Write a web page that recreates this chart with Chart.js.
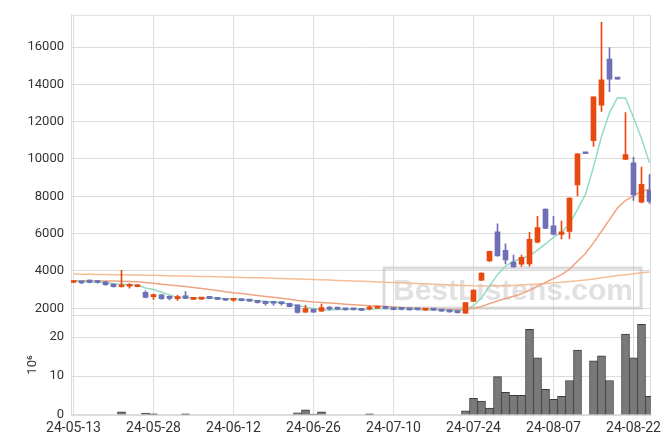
<!DOCTYPE html>
<html>
<head>
<meta charset="utf-8">
<script src="https://cdn.jsdelivr.net/npm/chart.js@4.4.1/dist/chart.umd.min.js"></script>
<style>
  html, body { margin: 0; padding: 0; background: #fff; }
</style>
</head>
<body>
<canvas id="grafico" width="671" height="444"></canvas>
<script>
/* ---------- dados ---------- */
const DATAS = [
  '24-05-13','24-05-14','24-05-16','24-05-17','24-05-20','24-05-21','24-05-22','24-05-23','24-05-24','24-05-27',
  '24-05-28','24-05-29','24-05-30','24-05-31','24-06-03','24-06-04','24-06-05','24-06-07','24-06-10','24-06-11',
  '24-06-12','24-06-13','24-06-14','24-06-17','24-06-18','24-06-19','24-06-20','24-06-21','24-06-24','24-06-25',
  '24-06-26','24-06-27','24-06-28','24-07-01','24-07-02','24-07-03','24-07-04','24-07-05','24-07-08','24-07-09',
  '24-07-10','24-07-11','24-07-12','24-07-15','24-07-16','24-07-17','24-07-18','24-07-19','24-07-22','24-07-23',
  '24-07-24','24-07-25','24-07-26','24-07-29','24-07-30','24-07-31','24-08-01','24-08-02','24-08-05','24-08-06',
  '24-08-07','24-08-08','24-08-09','24-08-12','24-08-13','24-08-14','24-08-16','24-08-19','24-08-20','24-08-21',
  '24-08-22','24-08-23','24-08-26'
];

const ABERTURA = [
  3380,3430,3510,3480,3420,3300,3150,3180,3150,2850,
  2620,2720,2580,2520,2670,2480,2490,2620,2580,2510,
  2430,2470,2460,2420,2370,2300,2290,2270,2180,1790,
  1950,1850,2020,2030,1980,1940,1950,1960,2010,2040,
  2020,1980,1960,1960,1900,1960,1930,1910,1880,1740,
  2370,3500,4530,6100,5100,4470,4360,4380,5540,7320,
  6420,5960,6120,8610,10280,10980,12890,15350,14280,9980,
  9800,7690,8320
];
const MAXIMA = [
  3500,3440,3520,3490,3430,3310,4030,3320,3280,2940,
  2760,2730,2670,2690,2900,2570,2570,2630,2590,2520,
  2510,2480,2470,2430,2380,2340,2300,2280,2190,2160,
  1960,2230,2090,2040,1990,1950,1960,2130,2120,2050,
  2030,2030,1970,1970,1940,1970,1940,1920,1890,2310,
  2990,3900,5060,6530,5450,4850,4850,6070,6930,7330,
  6930,6670,7920,10290,10280,13330,17320,15970,14280,12480,
  10100,9570,9170
];
const MINIMA = [
  3370,3320,3360,3340,3230,3130,3130,3080,3140,2550,
  2480,2480,2440,2420,2520,2470,2480,2510,2460,2410,
  2370,2390,2360,2270,2160,2160,2170,2070,1740,1780,
  1780,1830,1900,1930,1890,1900,1870,1910,2000,1970,
  1920,1910,1900,1900,1890,1890,1830,1790,1730,1720,
  2360,3480,4500,4790,4380,4200,4240,4260,5500,6270,
  5930,5720,5740,8020,10280,10670,12550,13610,14280,9980,
  7780,7640,7620
];
const FECHAMENTO = [
  3480,3360,3380,3380,3270,3150,3250,3220,3250,2580,
  2720,2510,2530,2580,2530,2560,2560,2530,2480,2430,
  2470,2410,2380,2300,2250,2270,2250,2090,1780,1980,
  1790,2040,1960,1950,1920,1920,1890,2020,2100,1990,
  1930,1940,1910,1920,1930,1900,1850,1810,1760,2300,
  2970,3880,5050,4800,4590,4220,4730,5700,6320,6280,
  5960,6100,7900,10280,10280,13330,14240,14280,14280,10230,
  8080,8640,7730
];
// volume em milhões
const VOLUME = [
  0,0,0,0,0,0,0.84,0,0,0.5,
  0.33,0,0,0,0.33,0,0,0,0,0,
  0,0,0,0,0,0,0,0,0.58,1.34,
  0.25,0.84,0,0,0,0,0,0.33,0,0,
  0,0,0,0,0,0,0,0,0,1.09,
  4.3,3.6,1.77,9.87,5.8,5.06,5.06,22.0,14.7,6.6,
  4.05,4.8,8.86,16.7,0,13.9,15.2,8.86,0,20.8,
  14.7,23.3,4.8
];
const MEDIA_CURTA = [
  3460,3440,3420,3410,3374,3308,3286,3254,3228,3090,
  3004,2856,2718,2584,2574,2542,2552,2552,2532,2512,
  2494,2464,2434,2398,2362,2322,2290,2232,2128,2074,
  1978,1936,1910,1944,1932,1958,1928,1940,1970,1984,
  1986,1996,1974,1938,1926,1920,1902,1882,1850,1924,
  2138,2544,3192,3800,4258,4508,4678,4808,5112,5450,
  5798,6072,6512,7304,8104,9578,11206,12482,13282,13272,
  12222,11102,9792
];
const MEDIA_20 = [
  3480,3475,3470,3465,3460,3455,3450,3440,3420,3380,
  3340,3290,3240,3200,3160,3110,3060,3000,2950,2888,
  2837,2790,2740,2686,2635,2591,2541,2484,2411,2381,
  2334,2311,2282,2251,2220,2188,2155,2129,2110,2088,
  2061,2038,2014,1995,1979,1961,1941,1927,1926,1942,
  2001,2093,2247,2390,2523,2638,2780,2964,3175,3390,
  3591,3799,4099,4517,4934,5506,6125,6749,7375,7771,
  8027,8265,8399
];
const MEDIA_LONGA = [
  3835,3828,3821,3814,3807,3800,3793,3786,3779,3772,
  3765,3755,3745,3735,3725,3715,3705,3695,3685,3675,
  3665,3653,3641,3629,3617,3605,3592,3579,3566,3553,
  3540,3524,3508,3492,3476,3460,3444,3428,3412,3396,
  3380,3362,3344,3326,3308,3290,3270,3250,3232,3215,
  3200,3195,3195,3200,3210,3225,3245,3270,3300,3330,
  3360,3395,3430,3470,3520,3570,3630,3690,3750,3800,
  3850,3900,3940
];

const TICKS_X = [0, 10, 20, 30, 40, 50, 60, 70];
const TICKS_PRECO = [2000, 4000, 6000, 8000, 10000, 12000, 14000, 16000];
const TICKS_VOL = [0, 10, 20];

/* ---------- paleta ---------- */
const COR = {
  alta: '#e8490f',
  baixa: '#6f6fb6',
  curta: '#93dcc3',
  media20: '#f0a382',
  longa: '#f4be96',
  volume: '#7a7a7a',
  volumeBorda: '#3a3a3a',
  grade: '#dcdcdc',
  texto: '#333333',
};

const idx = DATAS.map((_, i) => i);
const corCandle = idx.map(i => FECHAMENTO[i] > ABERTURA[i] ? COR.alta : COR.baixa);

const linha = (serie, cor) => ({
  type: 'line',
  data: idx.map(i => ({ x: i, y: serie[i] })),
  yAxisID: 'y',
  borderColor: cor,
  borderWidth: 1.5,
  pointRadius: 0,
  tension: 0,
  order: 1,
});

// marca d'água e contorno dos painéis
const molduraPlugin = {
  id: 'moldura',
  beforeDatasetsDraw(chart) {
    const { ctx, chartArea: a } = chart;
    const yp = chart.scales.y;
    ctx.save();
    ctx.strokeStyle = COR.grade;
    ctx.lineWidth = 1;
    ctx.strokeRect(a.left + 0.5, a.top + 0.5, a.right - a.left - 1, a.bottom - a.top - 1);
    ctx.beginPath();
    ctx.moveTo(a.left, Math.round(yp.bottom) + 0.5);
    ctx.lineTo(a.right, Math.round(yp.bottom) + 0.5);
    ctx.stroke();

    ctx.strokeStyle = 'rgba(190,190,190,0.55)';
    ctx.lineWidth = 3;
    ctx.strokeRect(384, 268, 257, 40);
    ctx.fillStyle = 'rgba(195,195,195,0.5)';
    ctx.font = "bold 30px 'Liberation Sans', Arial, sans-serif";
    ctx.textAlign = 'center';
    ctx.textBaseline = 'alphabetic';
    ctx.fillText('BestListens.com', 513, 300);
    ctx.restore();
  }
};

new Chart(document.getElementById('grafico'), {
  type: 'bar',
  data: {
    datasets: [
      {
        // corpo do candle
        data: idx.map(i => ({ x: i, y: [ABERTURA[i], FECHAMENTO[i]] })),
        yAxisID: 'y',
        backgroundColor: corCandle,
        barThickness: 5,
        minBarLength: 2,
        grouped: false,
        order: 0,
      },
      {
        // pavio
        data: idx.map(i => ({ x: i, y: [MINIMA[i], MAXIMA[i]] })),
        yAxisID: 'y',
        backgroundColor: corCandle,
        barThickness: 1,
        grouped: false,
        order: 0,
      },
      linha(MEDIA_CURTA, COR.curta),
      linha(MEDIA_20, COR.media20),
      linha(MEDIA_LONGA, COR.longa),
      {
        data: idx.map(i => ({ x: i, y: VOLUME[i] })),
        yAxisID: 'yv',
        backgroundColor: COR.volume,
        borderColor: COR.volumeBorda,
        borderWidth: 1,
        barThickness: 8,
        grouped: false,
        order: 2,
      },
    ]
  },
  options: {
    responsive: false,
    animation: false,
    layout: { padding: { top: 9, right: 20, left: 0, bottom: 0 } },
    plugins: { legend: { display: false }, tooltip: { enabled: false } },
    scales: {
      x: {
        type: 'linear',
        offset: false,
        min: -0.3125,
        max: 72.1875,
        afterBuildTicks: s => { s.ticks = TICKS_X.map(v => ({ value: v })); },
        afterFit: s => { s.height = 29; },
        grid: { color: COR.grade, drawTicks: false, offset: false },
        border: { color: COR.grade },
        ticks: {
          maxRotation: 0,
          autoSkip: false,
          padding: 5,
          color: COR.texto,
          font: { family: 'Roboto', size: 14 },
          callback: v => DATAS[v] ?? '',
        }
      },
      yv: {
        type: 'linear',
        position: 'left',
        stack: 'painel',
        stackWeight: 1,
        min: 0,
        max: 25.7,
        afterBuildTicks: s => { s.ticks = TICKS_VOL.map(v => ({ value: v })); },
        afterFit: s => { s.width = 71; },
        grid: { color: COR.grade, drawTicks: false },
        border: { color: COR.grade },
        title: {
          display: true,
          text: '10⁶',
          color: COR.texto,
          font: { family: 'Roboto', size: 13 },
          padding: { top: 25, bottom: 0 },
        },
        ticks: { padding: 7, color: COR.texto, font: { family: 'Roboto', size: 13 }, callback: v => String(v) }
      },
      y: {
        type: 'linear',
        position: 'left',
        stack: 'painel',
        stackWeight: 3,
        min: 1641,
        max: 17727,
        afterBuildTicks: s => { s.ticks = TICKS_PRECO.map(v => ({ value: v })); },
        afterFit: s => { s.width = 71; },
        grid: { color: COR.grade, drawTicks: false },
        border: { color: COR.grade },
        ticks: { padding: 7, color: COR.texto, font: { family: 'Roboto', size: 13 }, callback: v => String(v) }
      },
    }
  },
  plugins: [molduraPlugin]
});
</script>
</body>
</html>
